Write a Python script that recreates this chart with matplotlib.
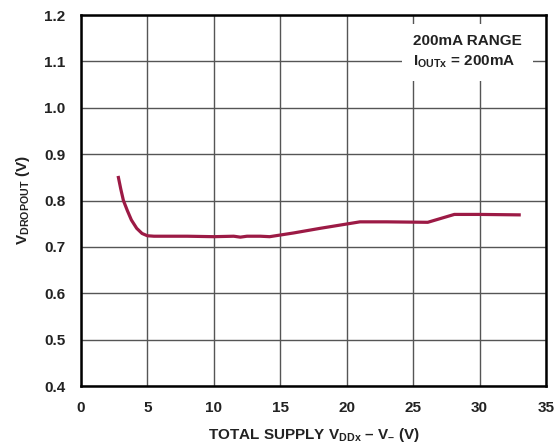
import matplotlib.pyplot as plt

plt.rcParams['font.family'] = ['Liberation Sans', 'DejaVu Sans']
plt.rcParams['mathtext.fontset'] = 'custom'
plt.rcParams['mathtext.rm'] = 'Liberation Sans:bold'
plt.rcParams['mathtext.bf'] = 'Liberation Sans:bold'
plt.rcParams['mathtext.it'] = 'Liberation Sans:bold'

# curve
supply_v = [2.8, 3.0, 3.2, 3.5, 3.8, 4.2, 4.6, 5.0, 5.5, 6.0, 8.0, 10.0, 11.5, 12.0,
            12.5, 13.5, 14.2, 16.0, 18.0, 19.5, 21.0, 23.0, 26.1, 28.1, 30.0, 33.1]
dropout_v = [0.853, 0.825, 0.800, 0.778, 0.758, 0.740, 0.729, 0.724, 0.723, 0.723,
             0.723, 0.722, 0.723, 0.721, 0.723, 0.723, 0.722, 0.730, 0.740, 0.747,
             0.754, 0.754, 0.753, 0.770, 0.770, 0.769]

x_ticks = [0, 5, 10, 15, 20, 25, 30, 35]
y_ticks = [0.4, 0.5, 0.6, 0.7, 0.8, 0.9, 1.0, 1.1, 1.2]

fig = plt.figure(figsize=(5.54, 4.44), dpi=100)
ax = fig.add_axes([0.146, 0.1306, 0.8396, 0.8356])

ax.plot(supply_v, dropout_v, color='#9c1a45', lw=2.3, solid_capstyle='butt', zorder=3)

ax.set_xlim(0, 35)
ax.set_ylim(0.4, 1.2)
ax.set_xticks(x_ticks)
ax.set_yticks(y_ticks)
ax.set_xticklabels([str(t) for t in x_ticks], fontsize=11, fontweight='bold', color='#222222')
ax.set_yticklabels([f'{t:.1f}' for t in y_ticks], fontsize=11, fontweight='bold', color='#222222')
ax.tick_params(axis='y', length=0, pad=11)
ax.tick_params(axis='x', length=0, pad=11)
ax.grid(True, color='#555555', lw=1.0)
ax.set_axisbelow(True)
for s in ax.spines.values():
    s.set_linewidth(1.8)
    s.set_color('black')

ax.set_xlabel(r'TOTAL SUPPLY V$_{\mathbf{DDx}}$ – V$_{\mathbf{–}}$ (V)', fontsize=11,
              fontweight='bold', color='#222222', labelpad=8)
ax.set_ylabel(r'V$_{\mathbf{DROPOUT}}$ (V)', fontsize=11, fontweight='bold',
              color='#222222', labelpad=9)

ax.text(25.0, 1.12, '200mA RANGE\n' + r'I$_{\mathbf{OUTx}}$ = 200mA',
        ha='left', va='center', fontsize=11, fontweight='bold', color='#222222',
        linespacing=1.45, zorder=4,
        bbox=dict(facecolor='white', edgecolor='none', pad=8))

fig.savefig('out.png', dpi=100)
